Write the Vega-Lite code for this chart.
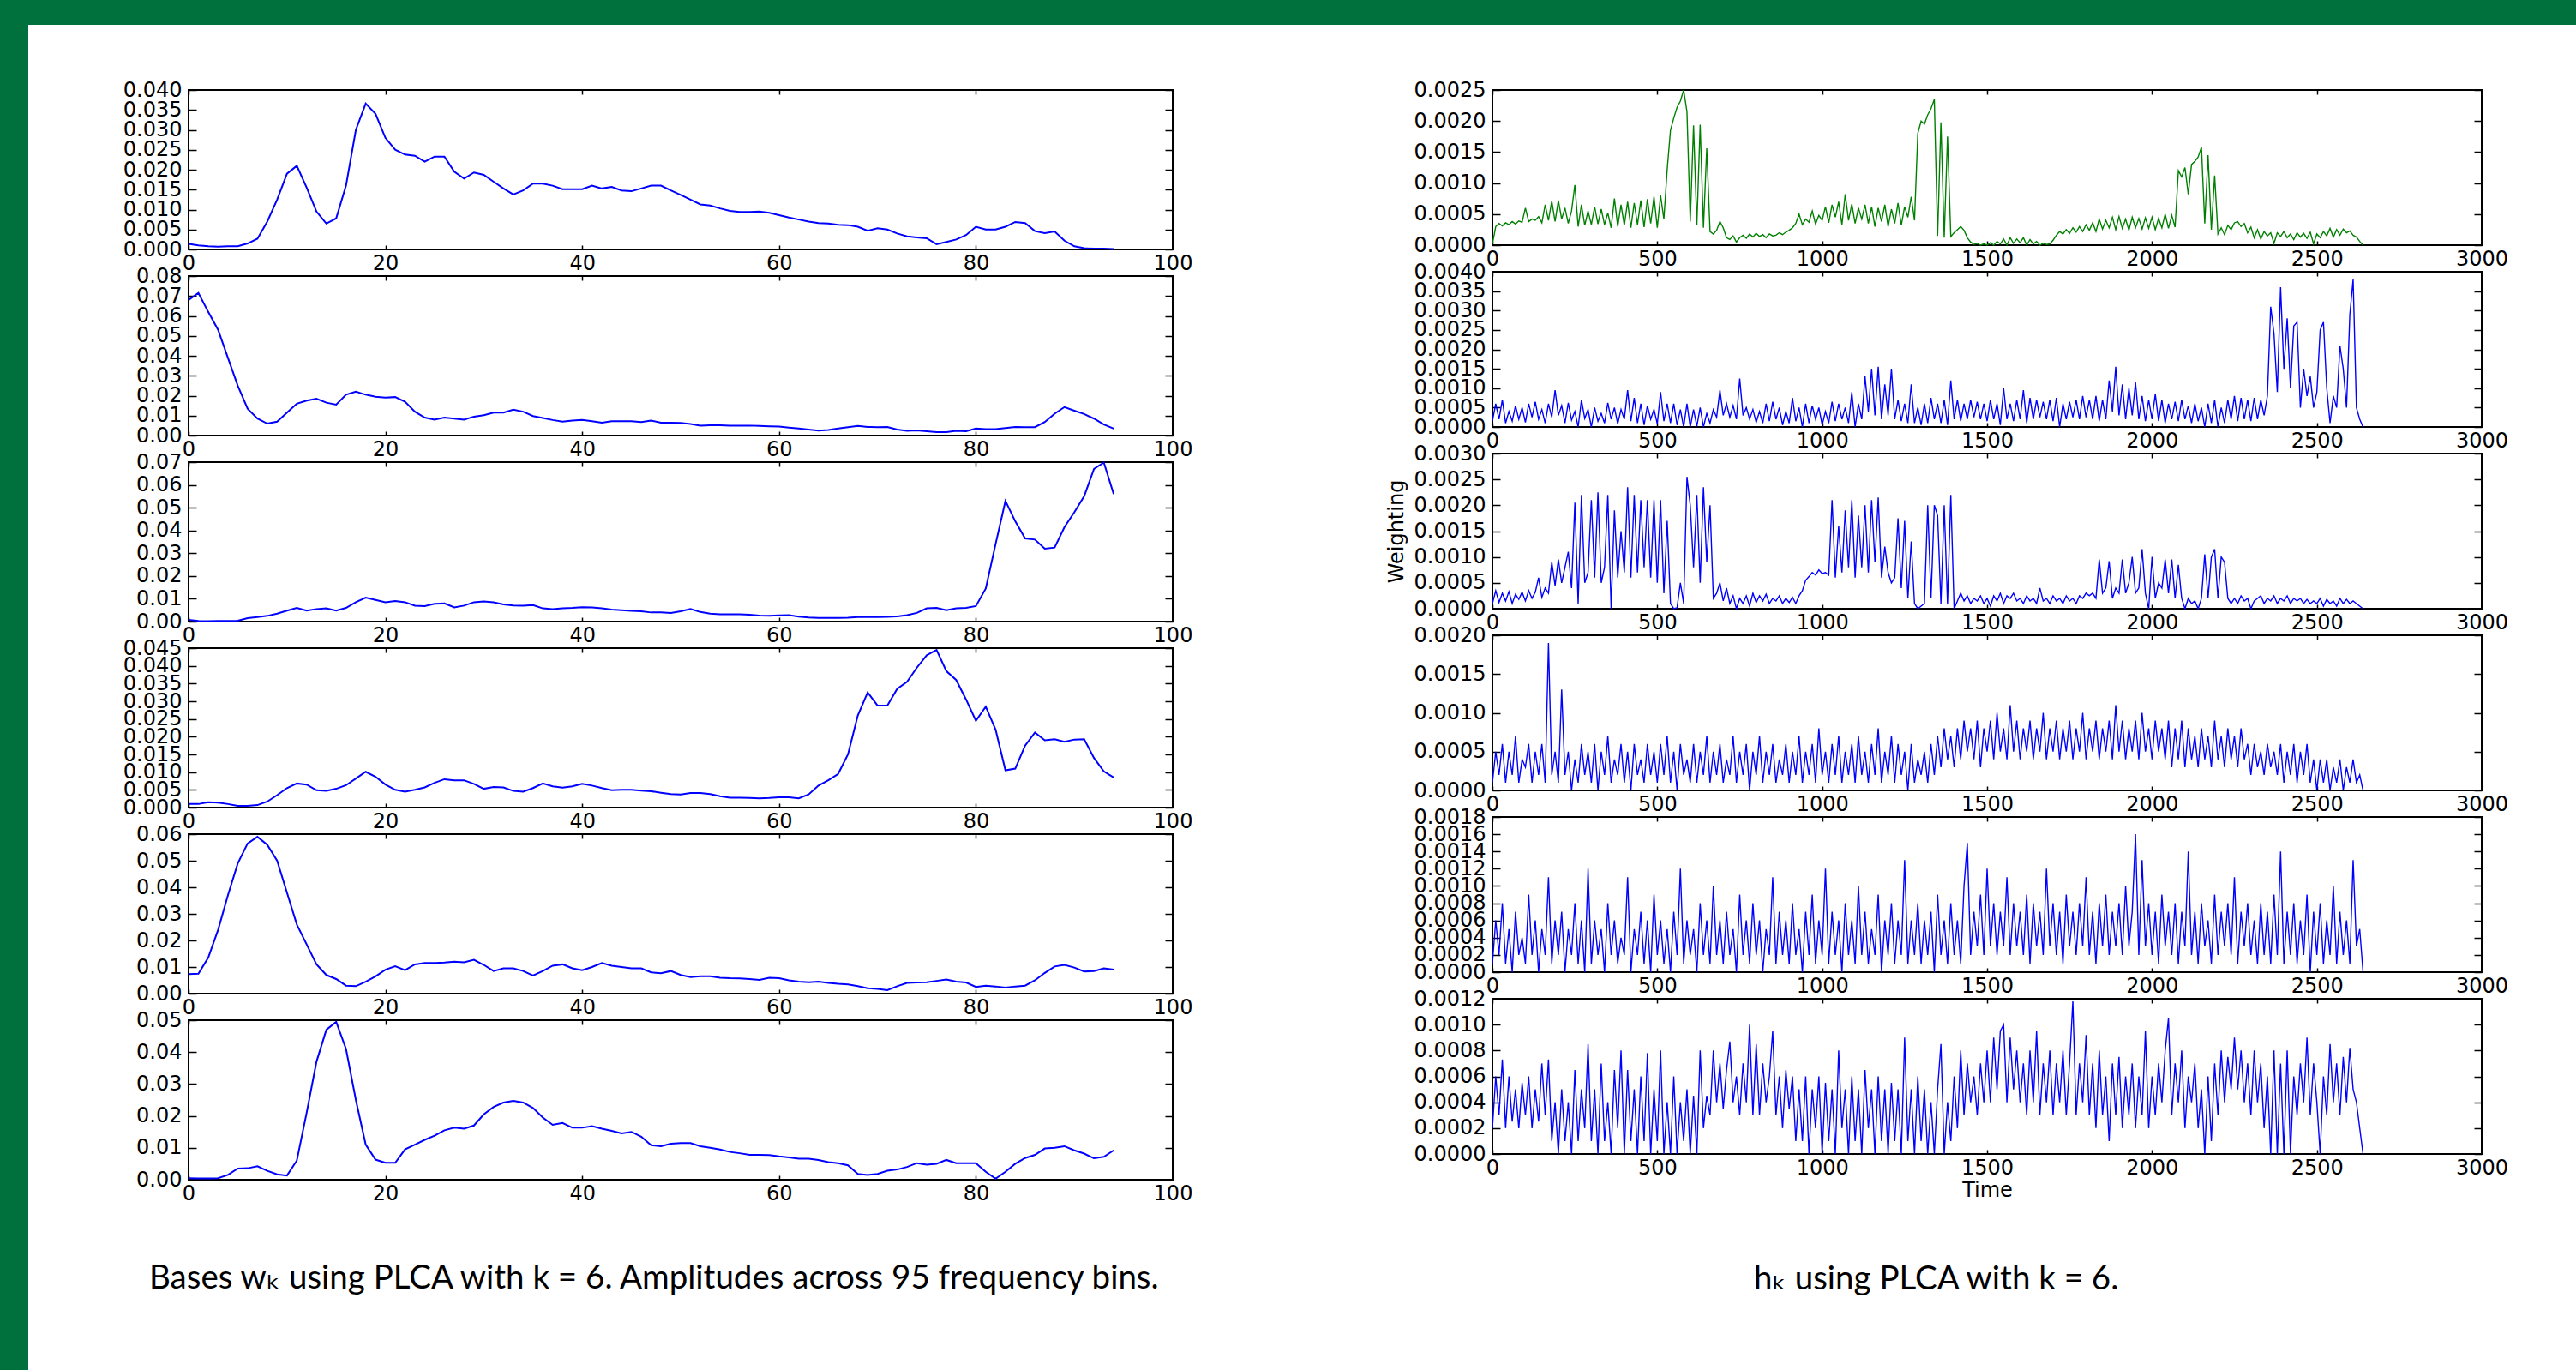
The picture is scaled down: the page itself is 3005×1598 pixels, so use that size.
{
"$schema": "https://vega.github.io/schema/vega-lite/v6.json",
"background": "white",
"padding": 0,
"config": {
  "view": {"stroke": "black", "strokeWidth": 2},
  "axis": {"grid": false, "domain": false, "ticks": true, "tickColor": "black", "tickWidth": 1.5, "labelFont": "DejaVu Sans", "labelFontSize": 24, "labelColor": "black", "labelFlush": false, "labelOverlap": false, "titleFont": "DejaVu Sans", "titleFontSize": 24, "titleFontWeight": "normal", "titleColor": "black"},
  "axisX": {"tickSize": -5, "labelPadding": 9},
  "axisY": {"tickSize": -9, "labelPadding": 17}
},
"datasets": {
"w": [
{"x":0,"a":0.0014,"b":0.068,"c":0.0008,"d":0.001,"e":0.0073,"f":0.0005},
{"x":1,"a":0.001,"b":0.0715,"c":0.0003,"d":0.001,"e":0.0075,"f":0.0004},
{"x":2,"a":0.0008,"b":0.062,"c":0.0002,"d":0.0015,"e":0.0135,"f":0.0004},
{"x":3,"a":0.0007,"b":0.053,"c":0.0003,"d":0.0014,"e":0.024,"f":0.0005},
{"x":4,"a":0.0008,"b":0.039,"c":0.0003,"d":0.001,"e":0.037,"f":0.0015},
{"x":5,"a":0.0008,"b":0.025,"c":0.0004,"d":0.0005,"e":0.049,"f":0.0035},
{"x":6,"a":0.0015,"b":0.0135,"c":0.0015,"d":0.0005,"e":0.0565,"f":0.0036},
{"x":7,"a":0.0027,"b":0.0085,"c":0.002,"d":0.0007,"e":0.059,"f":0.0042},
{"x":8,"a":0.007,"b":0.006,"c":0.0025,"d":0.0017,"e":0.056,"f":0.0028},
{"x":9,"a":0.0125,"b":0.007,"c":0.0035,"d":0.0035,"e":0.05,"f":0.0017},
{"x":10,"a":0.019,"b":0.0115,"c":0.0048,"d":0.0055,"e":0.038,"f":0.0013},
{"x":11,"a":0.021,"b":0.016,"c":0.006,"d":0.0068,"e":0.026,"f":0.006},
{"x":12,"a":0.0155,"b":0.0175,"c":0.0048,"d":0.0065,"e":0.0185,"f":0.021},
{"x":13,"a":0.0095,"b":0.0185,"c":0.0055,"d":0.0049,"e":0.011,"f":0.037},
{"x":14,"a":0.0065,"b":0.0165,"c":0.0058,"d":0.0047,"e":0.007,"f":0.047},
{"x":15,"a":0.0078,"b":0.0155,"c":0.0048,"d":0.0053,"e":0.0055,"f":0.0495},
{"x":16,"a":0.016,"b":0.0205,"c":0.006,"d":0.0063,"e":0.003,"f":0.041},
{"x":17,"a":0.03,"b":0.022,"c":0.0085,"d":0.0082,"e":0.0028,"f":0.025},
{"x":18,"a":0.0366,"b":0.0205,"c":0.0105,"d":0.0101,"e":0.0045,"f":0.011},
{"x":19,"a":0.034,"b":0.0195,"c":0.0095,"d":0.0087,"e":0.0065,"f":0.0063},
{"x":20,"a":0.028,"b":0.019,"c":0.0085,"d":0.0065,"e":0.009,"f":0.0053},
{"x":21,"a":0.025,"b":0.0193,"c":0.009,"d":0.005,"e":0.0103,"f":0.0053},
{"x":22,"a":0.0238,"b":0.017,"c":0.0085,"d":0.0045,"e":0.0088,"f":0.0095},
{"x":23,"a":0.0235,"b":0.012,"c":0.007,"d":0.005,"e":0.011,"f":0.011},
{"x":24,"a":0.022,"b":0.009,"c":0.0068,"d":0.0057,"e":0.0115,"f":0.0125},
{"x":25,"a":0.0233,"b":0.008,"c":0.0078,"d":0.007,"e":0.0115,"f":0.0138},
{"x":26,"a":0.0233,"b":0.009,"c":0.008,"d":0.008,"e":0.0117,"f":0.0155},
{"x":27,"a":0.0195,"b":0.0085,"c":0.0062,"d":0.0077,"e":0.012,"f":0.0163},
{"x":28,"a":0.0178,"b":0.008,"c":0.007,"d":0.0077,"e":0.0118,"f":0.016},
{"x":29,"a":0.0193,"b":0.0095,"c":0.0085,"d":0.0067,"e":0.0127,"f":0.017},
{"x":30,"a":0.0187,"b":0.0102,"c":0.0088,"d":0.0053,"e":0.0108,"f":0.0205},
{"x":31,"a":0.017,"b":0.0115,"c":0.0085,"d":0.0058,"e":0.0085,"f":0.0228},
{"x":32,"a":0.0153,"b":0.0115,"c":0.0075,"d":0.0057,"e":0.0095,"f":0.0242},
{"x":33,"a":0.0138,"b":0.013,"c":0.0071,"d":0.0047,"e":0.0095,"f":0.0247},
{"x":34,"a":0.0148,"b":0.012,"c":0.007,"d":0.0045,"e":0.0085,"f":0.0242},
{"x":35,"a":0.0165,"b":0.0098,"c":0.0072,"d":0.0055,"e":0.0068,"f":0.0225},
{"x":36,"a":0.0165,"b":0.0088,"c":0.0058,"d":0.0068,"e":0.0085,"f":0.0195},
{"x":37,"a":0.016,"b":0.0078,"c":0.0055,"d":0.006,"e":0.0105,"f":0.0172},
{"x":38,"a":0.0151,"b":0.007,"c":0.0058,"d":0.0056,"e":0.011,"f":0.0178},
{"x":39,"a":0.0151,"b":0.0075,"c":0.006,"d":0.006,"e":0.0095,"f":0.0163},
{"x":40,"a":0.0151,"b":0.0078,"c":0.0063,"d":0.0067,"e":0.0088,"f":0.0163},
{"x":41,"a":0.016,"b":0.0072,"c":0.0062,"d":0.0062,"e":0.01,"f":0.0168},
{"x":42,"a":0.0153,"b":0.0065,"c":0.0058,"d":0.0055,"e":0.0115,"f":0.016},
{"x":43,"a":0.0157,"b":0.0072,"c":0.0053,"d":0.0049,"e":0.0105,"f":0.0153},
{"x":44,"a":0.0148,"b":0.0072,"c":0.005,"d":0.005,"e":0.01,"f":0.0145},
{"x":45,"a":0.0146,"b":0.0072,"c":0.0047,"d":0.005,"e":0.0095,"f":0.015},
{"x":46,"a":0.0153,"b":0.0068,"c":0.0045,"d":0.0048,"e":0.0095,"f":0.0135},
{"x":47,"a":0.016,"b":0.0075,"c":0.004,"d":0.0046,"e":0.008,"f":0.0108},
{"x":48,"a":0.016,"b":0.0065,"c":0.004,"d":0.0042,"e":0.0077,"f":0.0105},
{"x":49,"a":0.0148,"b":0.0065,"c":0.0038,"d":0.0038,"e":0.0085,"f":0.0113},
{"x":50,"a":0.0137,"b":0.0063,"c":0.0045,"d":0.0037,"e":0.007,"f":0.0115},
{"x":51,"a":0.0125,"b":0.0058,"c":0.0055,"d":0.0041,"e":0.0062,"f":0.0115},
{"x":52,"a":0.0113,"b":0.005,"c":0.0042,"d":0.0041,"e":0.0065,"f":0.0105},
{"x":53,"a":0.011,"b":0.0052,"c":0.0035,"d":0.0038,"e":0.0065,"f":0.01},
{"x":54,"a":0.0103,"b":0.0052,"c":0.0032,"d":0.0032,"e":0.006,"f":0.0095},
{"x":55,"a":0.0097,"b":0.005,"c":0.0032,"d":0.0028,"e":0.0058,"f":0.0087},
{"x":56,"a":0.0094,"b":0.005,"c":0.0032,"d":0.0028,"e":0.0057,"f":0.0083},
{"x":57,"a":0.0094,"b":0.005,"c":0.003,"d":0.0027,"e":0.0055,"f":0.0078},
{"x":58,"a":0.0095,"b":0.0048,"c":0.0026,"d":0.0026,"e":0.0052,"f":0.0078},
{"x":59,"a":0.0092,"b":0.0046,"c":0.0025,"d":0.0027,"e":0.006,"f":0.0077},
{"x":60,"a":0.0086,"b":0.0045,"c":0.0027,"d":0.0029,"e":0.0058,"f":0.0073},
{"x":61,"a":0.008,"b":0.004,"c":0.0028,"d":0.0029,"e":0.005,"f":0.007},
{"x":62,"a":0.0075,"b":0.0035,"c":0.0022,"d":0.0026,"e":0.0045,"f":0.0066},
{"x":63,"a":0.007,"b":0.003,"c":0.0018,"d":0.0037,"e":0.0043,"f":0.0066},
{"x":64,"a":0.0066,"b":0.0025,"c":0.0016,"d":0.0062,"e":0.0045,"f":0.0062},
{"x":65,"a":0.0065,"b":0.0028,"c":0.0016,"d":0.0077,"e":0.004,"f":0.0055},
{"x":66,"a":0.0062,"b":0.0035,"c":0.0016,"d":0.0095,"e":0.0037,"f":0.0052},
{"x":67,"a":0.0061,"b":0.0042,"c":0.0017,"d":0.015,"e":0.0035,"f":0.0045},
{"x":68,"a":0.0057,"b":0.0048,"c":0.002,"d":0.026,"e":0.0028,"f":0.0018},
{"x":69,"a":0.0047,"b":0.0043,"c":0.002,"d":0.0325,"e":0.002,"f":0.0015},
{"x":70,"a":0.0053,"b":0.0042,"c":0.002,"d":0.0288,"e":0.0018,"f":0.0018},
{"x":71,"a":0.005,"b":0.0043,"c":0.0021,"d":0.0288,"e":0.0013,"f":0.0028},
{"x":72,"a":0.004,"b":0.003,"c":0.0023,"d":0.0335,"e":0.0028,"f":0.0032},
{"x":73,"a":0.0033,"b":0.0024,"c":0.0028,"d":0.0355,"e":0.004,"f":0.004},
{"x":74,"a":0.003,"b":0.0026,"c":0.0038,"d":0.0395,"e":0.0042,"f":0.0052},
{"x":75,"a":0.0028,"b":0.0022,"c":0.0058,"d":0.043,"e":0.0043,"f":0.0047},
{"x":76,"a":0.0013,"b":0.0017,"c":0.006,"d":0.0445,"e":0.0048,"f":0.005},
{"x":77,"a":0.0019,"b":0.0017,"c":0.005,"d":0.0385,"e":0.0053,"f":0.0062},
{"x":78,"a":0.0025,"b":0.0024,"c":0.0058,"d":0.036,"e":0.0045,"f":0.0052},
{"x":79,"a":0.0036,"b":0.0022,"c":0.006,"d":0.0305,"e":0.0042,"f":0.0052},
{"x":80,"a":0.0057,"b":0.0035,"c":0.0068,"d":0.0245,"e":0.0025,"f":0.0052},
{"x":81,"a":0.005,"b":0.0032,"c":0.0145,"d":0.0285,"e":0.003,"f":0.0025},
{"x":82,"a":0.005,"b":0.0032,"c":0.034,"d":0.022,"e":0.0027,"f":0.0003},
{"x":83,"a":0.0057,"b":0.0038,"c":0.053,"d":0.0105,"e":0.0023,"f":0.0025},
{"x":84,"a":0.0069,"b":0.0043,"c":0.044,"d":0.011,"e":0.0027,"f":0.005},
{"x":85,"a":0.0066,"b":0.0042,"c":0.0365,"d":0.0175,"e":0.003,"f":0.0068},
{"x":86,"a":0.0046,"b":0.0042,"c":0.036,"d":0.0212,"e":0.005,"f":0.0078},
{"x":87,"a":0.0041,"b":0.0068,"c":0.032,"d":0.019,"e":0.0078,"f":0.0098},
{"x":88,"a":0.0045,"b":0.011,"c":0.0325,"d":0.0193,"e":0.0102,"f":0.01},
{"x":89,"a":0.0022,"b":0.0143,"c":0.0415,"d":0.0186,"e":0.0108,"f":0.0105},
{"x":90,"a":0.0008,"b":0.0125,"c":0.048,"d":0.0192,"e":0.0098,"f":0.0092},
{"x":91,"a":0.0003,"b":0.0108,"c":0.055,"d":0.0193,"e":0.0083,"f":0.0082},
{"x":92,"a":0.0002,"b":0.0085,"c":0.067,"d":0.014,"e":0.0085,"f":0.0067},
{"x":93,"a":0.0002,"b":0.0055,"c":0.0698,"d":0.0102,"e":0.0095,"f":0.0072},
{"x":94,"a":0.0001,"b":0.0035,"c":0.056,"d":0.0085,"e":0.009,"f":0.0092}
],
"h": [
{"t":0,"a":0.00002,"b":0.00015,"c":0.0001,"d":0.0001,"e":0.0001,"f":0.0002},
{"t":10,"a":0.0003,"b":0.0006,"c":0.00035,"d":0.0005,"e":0.0006,"f":0.0006},
{"t":20,"a":0.00035,"b":0.0002,"c":0.00012,"d":0.0002,"e":0.0002,"f":0.0003},
{"t":30,"a":0.00031,"b":0.0007,"c":0.0003,"d":0.0006,"e":0.0008,"f":0.00073},
{"t":40,"a":0.00036,"b":0.0001,"c":0.00015,"d":0.0001,"e":0.0001,"f":0.0002},
{"t":50,"a":0.00033,"b":0.0004,"c":0.00033,"d":0.0005,"e":0.0005,"f":0.0006},
{"t":60,"a":0.00038,"b":0.00015,"c":0.0001,"d":0.0002,"e":0,"f":0.00025},
{"t":70,"a":0.00034,"b":0.00055,"c":0.00028,"d":0.0007,"e":0.0007,"f":0.0005},
{"t":80,"a":0.00039,"b":0.0002,"c":0.00018,"d":0.0001,"e":0.0002,"f":0.0002},
{"t":90,"a":0.00037,"b":0.0005,"c":0.00032,"d":0.0004,"e":0.0004,"f":0.00055},
{"t":100,"a":0.0006,"b":0.00012,"c":0.00015,"d":0.0003,"e":0.0001,"f":0.0003},
{"t":110,"a":0.00038,"b":0.0006,"c":0.00035,"d":0.0006,"e":0.0009,"f":0.0006},
{"t":120,"a":0.00042,"b":0.00025,"c":0.0002,"d":0.0001,"e":0.0002,"f":0.0002},
{"t":130,"a":0.0004,"b":0.00065,"c":0.00032,"d":0.0005,"e":0.0006,"f":0.0005},
{"t":140,"a":0.00046,"b":0.0002,"c":0.0006,"d":0.0002,"e":0,"f":0.00025},
{"t":150,"a":0.00036,"b":0.00045,"c":0.00022,"d":0.0006,"e":0.0005,"f":0.0007},
{"t":160,"a":0.00065,"b":0.0001,"c":0.0004,"d":0.0001,"e":0.0002,"f":0.0003},
{"t":170,"a":0.0004,"b":0.0006,"c":0.0003,"d":0.0019,"e":0.0011,"f":0.00073},
{"t":180,"a":0.00071,"b":0.00025,"c":0.0009,"d":0.0002,"e":0.0001,"f":0.0001},
{"t":190,"a":0.00038,"b":0.00095,"c":0.00045,"d":0.0005,"e":0.0006,"f":0.0004},
{"t":200,"a":0.00072,"b":0.0003,"c":0.00095,"d":0.0001,"e":0.0002,"f":0},
{"t":210,"a":0.00042,"b":0.00055,"c":0.0005,"d":0.0013,"e":0.0007,"f":0.0005},
{"t":220,"a":0.0006,"b":0.0001,"c":0.0008,"d":0.0002,"e":0,"f":0.0001},
{"t":230,"a":0.00035,"b":0.00062,"c":0.0011,"d":0.0005,"e":0.0005,"f":0.0004},
{"t":240,"a":0.00055,"b":0.00018,"c":0.0004,"d":0,"e":0.0002,"f":0},
{"t":250,"a":0.00097,"b":0.0004,"c":0.00205,"d":0.0004,"e":0.0008,"f":0.00065},
{"t":260,"a":0.0003,"b":0,"c":0.0001,"d":0.0001,"e":0.0001,"f":0.0001},
{"t":270,"a":0.00065,"b":0.0007,"c":0.0022,"d":0.0006,"e":0.0006,"f":0.0005},
{"t":280,"a":0.00032,"b":0.00022,"c":0.0005,"d":0.0002,"e":0,"f":0.0002},
{"t":290,"a":0.00055,"b":0.00045,"c":0.0007,"d":0.0005,"e":0.0012,"f":0.00085},
{"t":300,"a":0.00033,"b":0,"c":0.0021,"d":0.0001,"e":0.0001,"f":0.0001},
{"t":310,"a":0.00062,"b":0.0005,"c":0.0006,"d":0.0006,"e":0.0006,"f":0.0005},
{"t":320,"a":0.00034,"b":0.00015,"c":0.00225,"d":0,"e":0.0002,"f":0},
{"t":330,"a":0.00058,"b":0.00035,"c":0.0005,"d":0.0005,"e":0.0005,"f":0.0007},
{"t":340,"a":0.00033,"b":0.0001,"c":0.0008,"d":0.0002,"e":0,"f":0.0001},
{"t":350,"a":0.00052,"b":0.00062,"c":0.0022,"d":0.0007,"e":0.0008,"f":0.0004},
{"t":360,"a":0.00028,"b":0.0002,"c":0,"d":0.0001,"e":0.0002,"f":0},
{"t":370,"a":0.00075,"b":0.0005,"c":0.0019,"d":0.0004,"e":0.0006,"f":0.00065},
{"t":380,"a":0.0003,"b":0.00008,"c":0.0006,"d":0.0002,"e":0.0001,"f":0.0002},
{"t":390,"a":0.00065,"b":0.00045,"c":0.0015,"d":0.0006,"e":0.0004,"f":0.0008},
{"t":400,"a":0.00032,"b":0.0002,"c":0.0007,"d":0.0001,"e":0.0002,"f":0},
{"t":410,"a":0.0007,"b":0.00095,"c":0.00235,"d":0.0005,"e":0.0011,"f":0.00065},
{"t":420,"a":0.00028,"b":0.00015,"c":0.0006,"d":0,"e":0,"f":0.0001},
{"t":430,"a":0.00068,"b":0.00075,"c":0.0022,"d":0.0006,"e":0.0005,"f":0.0005},
{"t":440,"a":0.00033,"b":0.0001,"c":0.0007,"d":0.0002,"e":0.0002,"f":0},
{"t":450,"a":0.00072,"b":0.0006,"c":0.0021,"d":0.0004,"e":0.0007,"f":0.0006},
{"t":460,"a":0.00029,"b":0.00005,"c":0.0008,"d":0.0001,"e":0.0001,"f":0.0001},
{"t":470,"a":0.00074,"b":0.00055,"c":0.0021,"d":0.0006,"e":0.0006,"f":0.00078},
{"t":480,"a":0.00035,"b":0.0002,"c":0.0006,"d":0.0002,"e":0,"f":0},
{"t":490,"a":0.00078,"b":0.00045,"c":0.0021,"d":0.0005,"e":0.0009,"f":0.0005},
{"t":500,"a":0.00028,"b":0.00008,"c":0.0005,"d":0.0001,"e":0.0002,"f":0.0001},
{"t":510,"a":0.0008,"b":0.0009,"c":0.0021,"d":0.0006,"e":0.0006,"f":0.0008},
{"t":520,"a":0.00042,"b":0.00015,"c":0.0003,"d":0.0002,"e":0.0001,"f":0},
{"t":530,"a":0.00122,"b":0.0006,"c":0.0017,"d":0.0007,"e":0.0005,"f":0.0004},
{"t":540,"a":0.00185,"b":0.0001,"c":0.0001,"d":0.0001,"e":0,"f":0},
{"t":550,"a":0.00205,"b":0.0006,"c":0,"d":0.0005,"e":0.0007,"f":0.0006},
{"t":560,"a":0.00222,"b":0.00005,"c":0.00002,"d":0,"e":0.0002,"f":0},
{"t":570,"a":0.00232,"b":0.00045,"c":0.0005,"d":0.0006,"e":0.0012,"f":0.0004},
{"t":580,"a":0.0025,"b":0,"c":0.0001,"d":0.0002,"e":0.0001,"f":0.0001},
{"t":590,"a":0.00215,"b":0.0006,"c":0.00255,"d":0.0004,"e":0.0006,"f":0.0005},
{"t":600,"a":0.00038,"b":0,"c":0.002,"d":0.0001,"e":0.0002,"f":0},
{"t":610,"a":0.00193,"b":0.00045,"c":0.0008,"d":0.0006,"e":0.0005,"f":0.00045},
{"t":620,"a":0.00032,"b":0.00002,"c":0.0022,"d":0.0001,"e":0,"f":0},
{"t":630,"a":0.00194,"b":0.0005,"c":0.0005,"d":0.0005,"e":0.0008,"f":0.0008},
{"t":640,"a":0.00028,"b":0,"c":0.00235,"d":0.0002,"e":0.0002,"f":0.0002},
{"t":650,"a":0.00156,"b":0.00035,"c":0.0009,"d":0.0007,"e":0.0006,"f":0.00045},
{"t":660,"a":0.00022,"b":0.0001,"c":0.002,"d":0.0001,"e":0.0001,"f":0.0003},
{"t":670,"a":0.00018,"b":0.00045,"c":0.0002,"d":0.0005,"e":0.001,"f":0.0008},
{"t":680,"a":0.00024,"b":0.00025,"c":0.0003,"d":0.0002,"e":0.0002,"f":0.0004},
{"t":690,"a":0.00038,"b":0.00095,"c":0.0005,"d":0.0006,"e":0.0006,"f":0.0007},
{"t":700,"a":0.00028,"b":0.0003,"c":0.00015,"d":0.0001,"e":0.0001,"f":0.00035},
{"t":710,"a":0.00012,"b":0.0006,"c":0.0004,"d":0.0004,"e":0.0007,"f":0.00065},
{"t":720,"a":0.00009,"b":0.00025,"c":0.0001,"d":0.0002,"e":0.0002,"f":0.00087},
{"t":730,"a":0.00015,"b":0.00055,"c":0.00025,"d":0.0007,"e":0.0005,"f":0.0004},
{"t":740,"a":0.00005,"b":0.0002,"c":0,"d":0.0001,"e":0,"f":0.0006},
{"t":750,"a":0.00012,"b":0.00125,"c":0.0002,"d":0.0005,"e":0.0009,"f":0.0003},
{"t":760,"a":0.00016,"b":0.0003,"c":0.0001,"d":0.0002,"e":0.0002,"f":0.0007},
{"t":770,"a":0.00011,"b":0.0005,"c":0.00025,"d":0.0006,"e":0.0006,"f":0.0004},
{"t":780,"a":0.00018,"b":0.0002,"c":0.00005,"d":0,"e":0.0001,"f":0.001},
{"t":790,"a":0.00013,"b":0.00045,"c":0.0003,"d":0.0005,"e":0.0008,"f":0.0003},
{"t":800,"a":0.00019,"b":0.00012,"c":0.00012,"d":0.0002,"e":0.0002,"f":0.00085},
{"t":810,"a":0.00014,"b":0.0004,"c":0.00025,"d":0.0007,"e":0.0006,"f":0.0003},
{"t":820,"a":0.00017,"b":0.0001,"c":0.00015,"d":0.0001,"e":0,"f":0.0007},
{"t":830,"a":0.00012,"b":0.0006,"c":0.00028,"d":0.0005,"e":0.0005,"f":0.0004},
{"t":840,"a":0.00018,"b":0.00015,"c":0.0001,"d":0.0002,"e":0.0002,"f":0.0006},
{"t":850,"a":0.00015,"b":0.00065,"c":0.0002,"d":0.0006,"e":0.0011,"f":0.00095},
{"t":860,"a":0.00016,"b":0.0002,"c":0.00015,"d":0.0001,"e":0.0001,"f":0.0003},
{"t":870,"a":0.0002,"b":0.0005,"c":0.00025,"d":0.0004,"e":0.0007,"f":0.0006},
{"t":880,"a":0.00017,"b":0.00005,"c":0.0001,"d":0.0002,"e":0.0002,"f":0.0002},
{"t":890,"a":0.00021,"b":0.0004,"c":0.0002,"d":0.0006,"e":0.0006,"f":0.00065},
{"t":900,"a":0.00024,"b":0.0001,"c":0.00012,"d":0.0001,"e":0.0001,"f":0.00035},
{"t":910,"a":0.00028,"b":0.00075,"c":0.00022,"d":0.0005,"e":0.0008,"f":0.0006},
{"t":920,"a":0.00035,"b":0.00015,"c":0.0001,"d":0.0002,"e":0.0002,"f":0.0001},
{"t":930,"a":0.0005,"b":0.0005,"c":0.00025,"d":0.0007,"e":0.0005,"f":0.0005},
{"t":940,"a":0.00033,"b":0,"c":0.00035,"d":0.0001,"e":0,"f":0.0001},
{"t":950,"a":0.00042,"b":0.0006,"c":0.00055,"d":0.0005,"e":0.0007,"f":0.0006},
{"t":960,"a":0.00037,"b":0.0001,"c":0.00062,"d":0.0002,"e":0.0002,"f":0},
{"t":970,"a":0.00055,"b":0.00055,"c":0.0007,"d":0.0006,"e":0.0009,"f":0.0005},
{"t":980,"a":0.00034,"b":0.0002,"c":0.00065,"d":0.0001,"e":0.0001,"f":0.0002},
{"t":990,"a":0.00048,"b":0.0005,"c":0.00075,"d":0.0008,"e":0.0006,"f":0.0006},
{"t":1000,"a":0.0004,"b":0.00005,"c":0.00068,"d":0.0002,"e":0.0002,"f":0},
{"t":1010,"a":0.00062,"b":0.0004,"c":0.0007,"d":0.0005,"e":0.0012,"f":0.00055},
{"t":1020,"a":0.00036,"b":0.0001,"c":0.00065,"d":0.0001,"e":0.0001,"f":0.0001},
{"t":1030,"a":0.00065,"b":0.00065,"c":0.0021,"d":0.0006,"e":0.0007,"f":0.0005},
{"t":1040,"a":0.00045,"b":0.00015,"c":0.0006,"d":0.0002,"e":0.0002,"f":0},
{"t":1050,"a":0.0007,"b":0.0006,"c":0.0016,"d":0.0007,"e":0.0006,"f":0.0008},
{"t":1060,"a":0.00033,"b":0.0002,"c":0.0007,"d":0.0001,"e":0,"f":0.0002},
{"t":1070,"a":0.00082,"b":0.0005,"c":0.0019,"d":0.0005,"e":0.0008,"f":0.0005},
{"t":1080,"a":0.0004,"b":0.0001,"c":0.0008,"d":0.0002,"e":0.0002,"f":0},
{"t":1090,"a":0.00066,"b":0.0009,"c":0.0021,"d":0.0006,"e":0.0006,"f":0.0006},
{"t":1100,"a":0.00035,"b":0,"c":0.0006,"d":0.0001,"e":0.0001,"f":0.0001},
{"t":1110,"a":0.0006,"b":0.0006,"c":0.0018,"d":0.0007,"e":0.001,"f":0.0005},
{"t":1120,"a":0.00042,"b":0.0002,"c":0.0008,"d":0.0002,"e":0.0002,"f":0},
{"t":1130,"a":0.00065,"b":0.0013,"c":0.002,"d":0.0005,"e":0.0007,"f":0.00065},
{"t":1140,"a":0.00035,"b":0.0004,"c":0.0007,"d":0.0001,"e":0.0001,"f":0.0002},
{"t":1150,"a":0.00062,"b":0.0015,"c":0.0021,"d":0.0006,"e":0.0005,"f":0.0005},
{"t":1160,"a":0.0003,"b":0.0003,"c":0.0009,"d":0.0002,"e":0.0002,"f":0},
{"t":1170,"a":0.0006,"b":0.00155,"c":0.00215,"d":0.0008,"e":0.0009,"f":0.0006},
{"t":1180,"a":0.00038,"b":0.0002,"c":0.0006,"d":0.0001,"e":0,"f":0.0001},
{"t":1190,"a":0.00065,"b":0.0011,"c":0.0012,"d":0.0005,"e":0.0006,"f":0.0005},
{"t":1200,"a":0.0003,"b":0.0003,"c":0.0007,"d":0.0002,"e":0.0002,"f":0},
{"t":1210,"a":0.00058,"b":0.0015,"c":0.0005,"d":0.0007,"e":0.0008,"f":0.00055},
{"t":1220,"a":0.00035,"b":0.0002,"c":0.0006,"d":0.0001,"e":0.0001,"f":0.0001},
{"t":1230,"a":0.00068,"b":0.0007,"c":0.00175,"d":0.0006,"e":0.0006,"f":0.0005},
{"t":1240,"a":0.00032,"b":0.00015,"c":0.0004,"d":0.0002,"e":0.0002,"f":0},
{"t":1250,"a":0.00062,"b":0.0006,"c":0.0017,"d":0.0005,"e":0.0013,"f":0.0009},
{"t":1260,"a":0.00045,"b":0.0001,"c":0.0002,"d":0,"e":0.0001,"f":0.0001},
{"t":1270,"a":0.00078,"b":0.0011,"c":0.0013,"d":0.0006,"e":0.0006,"f":0.0005},
{"t":1280,"a":0.0004,"b":0.0001,"c":0.0001,"d":0.0001,"e":0.0002,"f":0},
{"t":1290,"a":0.0018,"b":0.0005,"c":0,"d":0.0004,"e":0.0008,"f":0.0006},
{"t":1300,"a":0.002,"b":0.00005,"c":0.00005,"d":0.0002,"e":0.0001,"f":0.0001},
{"t":1310,"a":0.00195,"b":0.0006,"c":0.0001,"d":0.0005,"e":0.0006,"f":0.0005},
{"t":1320,"a":0.0021,"b":0.0001,"c":0.002,"d":0.0001,"e":0.0002,"f":0},
{"t":1330,"a":0.0022,"b":0.00075,"c":0.0002,"d":0.0006,"e":0.0007,"f":0.0004},
{"t":1340,"a":0.00235,"b":0.0002,"c":0.002,"d":0.0002,"e":0,"f":0},
{"t":1350,"a":0.00015,"b":0.0006,"c":0.0018,"d":0.0007,"e":0.0009,"f":0.0005},
{"t":1360,"a":0.00198,"b":0.0001,"c":0.0001,"d":0.0003,"e":0.0002,"f":0.00085},
{"t":1370,"a":0.00012,"b":0.0007,"c":0.002,"d":0.0008,"e":0.0006,"f":0},
{"t":1380,"a":0.00175,"b":0.00005,"c":0.0001,"d":0.0004,"e":0.0001,"f":0.0004},
{"t":1390,"a":0.00014,"b":0.0012,"c":0.0022,"d":0.0007,"e":0.0008,"f":0.0001},
{"t":1400,"a":0.0002,"b":0.0002,"c":0,"d":0.0003,"e":0.0002,"f":0.0006},
{"t":1410,"a":0.00025,"b":0.0007,"c":0.00015,"d":0.0008,"e":0.0006,"f":0.0002},
{"t":1420,"a":0.0003,"b":0.00015,"c":0.0003,"d":0.0004,"e":0.0001,"f":0.0008},
{"t":1430,"a":0.00024,"b":0.0006,"c":0.00015,"d":0.0009,"e":0.001,"f":0.0003},
{"t":1440,"a":0.00012,"b":0.0002,"c":0.00025,"d":0.0005,"e":0.0015,"f":0.0007},
{"t":1450,"a":0.00005,"b":0.0007,"c":0.0001,"d":0.0008,"e":0.0002,"f":0.0004},
{"t":1460,"a":0.00001,"b":0.00025,"c":0.0002,"d":0.0004,"e":0.0007,"f":0.0006},
{"t":1470,"a":0.00003,"b":0.00065,"c":0.00015,"d":0.0009,"e":0.0003,"f":0.0003},
{"t":1480,"a":0,"b":0.0002,"c":0.00025,"d":0.0003,"e":0.0009,"f":0.0007},
{"t":1490,"a":0.00002,"b":0.0006,"c":0.0001,"d":0.0008,"e":0.0002,"f":0.0004},
{"t":1500,"a":0,"b":0.00015,"c":0.0002,"d":0.0005,"e":0.0012,"f":0.0008},
{"t":1510,"a":0.00004,"b":0.0007,"c":0.00005,"d":0.0009,"e":0.0003,"f":0.0004},
{"t":1520,"a":0,"b":0.0002,"c":0.00025,"d":0.0004,"e":0.0008,"f":0.0009},
{"t":1530,"a":0.00006,"b":0.0006,"c":0.00015,"d":0.001,"e":0.0002,"f":0.0005},
{"t":1540,"a":0.00002,"b":0.00005,"c":0.0003,"d":0.0005,"e":0.0007,"f":0.00095},
{"t":1550,"a":0.0001,"b":0.001,"c":0.0001,"d":0.0008,"e":0.0003,"f":0.001},
{"t":1560,"a":0,"b":0.0002,"c":0.00025,"d":0.0004,"e":0.0011,"f":0.0004},
{"t":1570,"a":0.00012,"b":0.0006,"c":0.0002,"d":0.0011,"e":0.0002,"f":0.0009},
{"t":1580,"a":0.00003,"b":0.00015,"c":0.0003,"d":0.0005,"e":0.0008,"f":0.0005},
{"t":1590,"a":0.0001,"b":0.0007,"c":0.00015,"d":0.0009,"e":0.0003,"f":0.0008},
{"t":1600,"a":0.00004,"b":0.0002,"c":0.0002,"d":0.0004,"e":0.0007,"f":0.0004},
{"t":1610,"a":0.00012,"b":0.00095,"c":0.0001,"d":0.0008,"e":0.0002,"f":0.0007},
{"t":1620,"a":0,"b":0.0001,"c":0.00025,"d":0.0005,"e":0.0009,"f":0.0003},
{"t":1630,"a":0.00009,"b":0.00075,"c":0.00015,"d":0.0009,"e":0.0001,"f":0.0008},
{"t":1640,"a":0.00002,"b":0.0002,"c":0.0002,"d":0.0004,"e":0.0008,"f":0.0004},
{"t":1650,"a":0.00006,"b":0.0007,"c":0.0001,"d":0.0008,"e":0.0003,"f":0.00095},
{"t":1660,"a":0,"b":0.00025,"c":0.0004,"d":0.0005,"e":0.0007,"f":0.0003},
{"t":1670,"a":0.00003,"b":0.00065,"c":0.00015,"d":0.001,"e":0.0002,"f":0.0007},
{"t":1680,"a":0.00001,"b":0.0002,"c":0.0002,"d":0.0004,"e":0.0012,"f":0.0004},
{"t":1690,"a":0.00002,"b":0.0007,"c":0.0001,"d":0.0008,"e":0.0003,"f":0.0008},
{"t":1700,"a":0.00008,"b":0.00015,"c":0.00025,"d":0.0005,"e":0.0008,"f":0.0003},
{"t":1710,"a":0.00016,"b":0.00075,"c":0.00015,"d":0.0009,"e":0.0002,"f":0.0007},
{"t":1720,"a":0.00022,"b":0,"c":0.0002,"d":0.0004,"e":0.0007,"f":0.0004},
{"t":1730,"a":0.00018,"b":0.0006,"c":0.0001,"d":0.0008,"e":0.0001,"f":0.0008},
{"t":1740,"a":0.00025,"b":0.0002,"c":0.00025,"d":0.0005,"e":0.0009,"f":0.0003},
{"t":1750,"a":0.00019,"b":0.00065,"c":0.00015,"d":0.0009,"e":0.0003,"f":0.0007},
{"t":1760,"a":0.00028,"b":0.00025,"c":0.0002,"d":0.0004,"e":0.0007,"f":0.00118},
{"t":1770,"a":0.00021,"b":0.0007,"c":0.0001,"d":0.0008,"e":0.0002,"f":0.0003},
{"t":1780,"a":0.0003,"b":0.0002,"c":0.00025,"d":0.0005,"e":0.0008,"f":0.0007},
{"t":1790,"a":0.00022,"b":0.0008,"c":0.0002,"d":0.001,"e":0.0003,"f":0.0004},
{"t":1800,"a":0.00033,"b":0.00025,"c":0.0003,"d":0.0004,"e":0.0011,"f":0.00092},
{"t":1810,"a":0.00024,"b":0.0007,"c":0.00025,"d":0.0008,"e":0.0002,"f":0.0003},
{"t":1820,"a":0.00036,"b":0.0002,"c":0.0003,"d":0.0005,"e":0.0007,"f":0.0007},
{"t":1830,"a":0.00022,"b":0.0008,"c":0.0002,"d":0.0009,"e":0.0001,"f":0.0002},
{"t":1840,"a":0.00042,"b":0.00015,"c":0.00095,"d":0.0004,"e":0.0008,"f":0.0008},
{"t":1850,"a":0.00026,"b":0.0007,"c":0.0003,"d":0.0008,"e":0.0003,"f":0.0003},
{"t":1860,"a":0.0004,"b":0.0002,"c":0.0004,"d":0.0005,"e":0.0009,"f":0.0006},
{"t":1870,"a":0.00028,"b":0.0012,"c":0.00092,"d":0.0009,"e":0.0002,"f":0.0001},
{"t":1880,"a":0.00045,"b":0.0004,"c":0.0002,"d":0.0004,"e":0.0007,"f":0.0007},
{"t":1890,"a":0.00025,"b":0.00155,"c":0.0004,"d":0.0011,"e":0.0003,"f":0.0003},
{"t":1900,"a":0.00046,"b":0.0003,"c":0.0003,"d":0.0005,"e":0.0008,"f":0.00075},
{"t":1910,"a":0.00027,"b":0.0011,"c":0.00095,"d":0.0009,"e":0.0002,"f":0.0002},
{"t":1920,"a":0.00042,"b":0.0002,"c":0.0003,"d":0.0004,"e":0.001,"f":0.0006},
{"t":1930,"a":0.00024,"b":0.001,"c":0.0005,"d":0.0008,"e":0.0003,"f":0.0003},
{"t":1940,"a":0.00045,"b":0.0003,"c":0.001,"d":0.0005,"e":0.0007,"f":0.0007},
{"t":1950,"a":0.00028,"b":0.00115,"c":0.0003,"d":0.0009,"e":0.0016,"f":0.0002},
{"t":1960,"a":0.00043,"b":0.0002,"c":0.0004,"d":0.0004,"e":0.0002,"f":0.0006},
{"t":1970,"a":0.00026,"b":0.0008,"c":0.00115,"d":0.001,"e":0.0013,"f":0.0003},
{"t":1980,"a":0.00044,"b":0.00015,"c":0.0003,"d":0.0005,"e":0.0003,"f":0.00095},
{"t":1990,"a":0.00027,"b":0.0007,"c":0,"d":0.0008,"e":0.0008,"f":0.0002},
{"t":2000,"a":0.00045,"b":0.0002,"c":0.001,"d":0.0004,"e":0.0002,"f":0.0006},
{"t":2010,"a":0.00025,"b":0.00085,"c":0.0002,"d":0.0009,"e":0.0007,"f":0.0003},
{"t":2020,"a":0.00043,"b":0.00015,"c":0.0005,"d":0.0005,"e":0.0001,"f":0.0007},
{"t":2030,"a":0.00028,"b":0.0007,"c":0.0004,"d":0.0008,"e":0.0009,"f":0.0004},
{"t":2040,"a":0.0005,"b":0.0001,"c":0.00095,"d":0.0004,"e":0.0003,"f":0.0008},
{"t":2050,"a":0.00027,"b":0.0006,"c":0.0003,"d":0.0009,"e":0.0007,"f":0.00105},
{"t":2060,"a":0.00048,"b":0.0002,"c":0.00095,"d":0.0003,"e":0.0002,"f":0.0003},
{"t":2070,"a":0.00029,"b":0.00065,"c":0.0002,"d":0.0008,"e":0.0008,"f":0.0007},
{"t":2080,"a":0.0012,"b":0.00015,"c":0.00085,"d":0.0004,"e":0.0001,"f":0.0004},
{"t":2090,"a":0.0011,"b":0.0007,"c":0.0002,"d":0.0009,"e":0.0007,"f":0.0008},
{"t":2100,"a":0.00125,"b":0.0002,"c":0,"d":0.0003,"e":0.0003,"f":0.0002},
{"t":2110,"a":0.00082,"b":0.00055,"c":0.0002,"d":0.0008,"e":0.0014,"f":0.0006},
{"t":2120,"a":0.0013,"b":0.0001,"c":0.0001,"d":0.0004,"e":0.0002,"f":0.0004},
{"t":2130,"a":0.00135,"b":0.0006,"c":0.00015,"d":0.0007,"e":0.0007,"f":0.0007},
{"t":2140,"a":0.00142,"b":0.00015,"c":0,"d":0.0003,"e":0.0001,"f":0.0002},
{"t":2150,"a":0.00158,"b":0.0005,"c":0.0002,"d":0.0008,"e":0.0008,"f":0.0005},
{"t":2160,"a":0.00035,"b":0,"c":0.00105,"d":0.0004,"e":0.0003,"f":0},
{"t":2170,"a":0.00145,"b":0.0006,"c":0.0002,"d":0.0007,"e":0.0006,"f":0.0006},
{"t":2180,"a":0.00025,"b":0.0001,"c":0.001,"d":0.0003,"e":0.0001,"f":0.0001},
{"t":2190,"a":0.00112,"b":0.0007,"c":0.00115,"d":0.0009,"e":0.0009,"f":0.0007},
{"t":2200,"a":0.00018,"b":0,"c":0.0002,"d":0.0004,"e":0.0002,"f":0.0003},
{"t":2210,"a":0.00028,"b":0.0005,"c":0.001,"d":0.0007,"e":0.0007,"f":0.0008},
{"t":2220,"a":0.00017,"b":0.0001,"c":0.0009,"d":0.0003,"e":0.0003,"f":0.0004},
{"t":2230,"a":0.00032,"b":0.0007,"c":0.0002,"d":0.0008,"e":0.0008,"f":0.00075},
{"t":2240,"a":0.00025,"b":0.0002,"c":0.0001,"d":0.0004,"e":0.0002,"f":0.0005},
{"t":2250,"a":0.00036,"b":0.0008,"c":0.0002,"d":0.0007,"e":0.0011,"f":0.0009},
{"t":2260,"a":0.00038,"b":0.00015,"c":0.0001,"d":0.0003,"e":0.0001,"f":0.0005},
{"t":2270,"a":0.0003,"b":0.00075,"c":0.00025,"d":0.0008,"e":0.0007,"f":0.0008},
{"t":2280,"a":0.00035,"b":0.0002,"c":0.00015,"d":0.0004,"e":0.0003,"f":0.0004},
{"t":2290,"a":0.0002,"b":0.0007,"c":0.0002,"d":0.0006,"e":0.0008,"f":0.0007},
{"t":2300,"a":0.00029,"b":0.00015,"c":0,"d":0.0002,"e":0.0002,"f":0.0003},
{"t":2310,"a":0.00012,"b":0.00075,"c":0.00015,"d":0.0006,"e":0.0006,"f":0.0008},
{"t":2320,"a":0.00025,"b":0.0002,"c":0.0002,"d":0.0003,"e":0.0001,"f":0.0004},
{"t":2330,"a":0.0001,"b":0.0007,"c":0.00025,"d":0.0005,"e":0.0008,"f":0.0007},
{"t":2340,"a":0.00022,"b":0.0003,"c":0.0001,"d":0.0002,"e":0.0002,"f":0.0002},
{"t":2350,"a":0.00015,"b":0.0008,"c":0.0002,"d":0.0006,"e":0.0007,"f":0.0006},
{"t":2360,"a":0.0002,"b":0.0031,"c":0.00015,"d":0.0003,"e":0.0001,"f":0},
{"t":2370,"a":0.00003,"b":0.0024,"c":0.00025,"d":0.0005,"e":0.0009,"f":0.0008},
{"t":2380,"a":0.0002,"b":0.0009,"c":0.0001,"d":0.0002,"e":0.0002,"f":0},
{"t":2390,"a":0.00014,"b":0.0036,"c":0.0002,"d":0.0006,"e":0.0014,"f":0.0007},
{"t":2400,"a":0.00022,"b":0.0015,"c":0.00015,"d":0.0001,"e":0.0001,"f":0},
{"t":2410,"a":0.00012,"b":0.0028,"c":0.00025,"d":0.0005,"e":0.0007,"f":0.0008},
{"t":2420,"a":0.00018,"b":0.001,"c":0.0001,"d":0.0002,"e":0.0002,"f":0},
{"t":2430,"a":0.00009,"b":0.0026,"c":0.0002,"d":0.0006,"e":0.0008,"f":0.0006},
{"t":2440,"a":0.0002,"b":0.0027,"c":0.00015,"d":0.0001,"e":0.0001,"f":0.0003},
{"t":2450,"a":0.00013,"b":0.0005,"c":0.0002,"d":0.0005,"e":0.0006,"f":0.0007},
{"t":2460,"a":0.00019,"b":0.0015,"c":0.0001,"d":0.0002,"e":0.0002,"f":0.0004},
{"t":2470,"a":0.00011,"b":0.0008,"c":0.00018,"d":0.0006,"e":0.0009,"f":0.0009},
{"t":2480,"a":0.00021,"b":0.0013,"c":0.0001,"d":0.0001,"e":0,"f":0.0003},
{"t":2490,"a":0.00002,"b":0.0005,"c":0.00015,"d":0.0004,"e":0.0007,"f":0.0007},
{"t":2500,"a":0.00018,"b":0.0009,"c":0.0001,"d":0,"e":0.0002,"f":0.0004},
{"t":2510,"a":0.00012,"b":0.0025,"c":0.0002,"d":0.0004,"e":0.0008,"f":0},
{"t":2520,"a":0.00022,"b":0.0027,"c":0.00005,"d":0.0001,"e":0.0001,"f":0.0006},
{"t":2530,"a":0.00015,"b":0.001,"c":0.00018,"d":0.0004,"e":0.0006,"f":0.0003},
{"t":2540,"a":0.00027,"b":0.0001,"c":0.0001,"d":0,"e":0.0002,"f":0.00085},
{"t":2550,"a":0.00013,"b":0.0008,"c":0.00015,"d":0.0003,"e":0.001,"f":0.0004},
{"t":2560,"a":0.00025,"b":0.0005,"c":0.00005,"d":0.0001,"e":0.0001,"f":0.0007},
{"t":2570,"a":0.00016,"b":0.0021,"c":0.0002,"d":0.0004,"e":0.0007,"f":0.0003},
{"t":2580,"a":0.00026,"b":0.0015,"c":0.0001,"d":0,"e":0.0002,"f":0.00075},
{"t":2590,"a":0.0002,"b":0.0005,"c":0.00018,"d":0.0003,"e":0.0006,"f":0.0004},
{"t":2600,"a":0.00023,"b":0.0029,"c":0.0001,"d":0.0001,"e":0.0001,"f":0.00082},
{"t":2610,"a":0.00016,"b":0.0038,"c":0.00015,"d":0.0004,"e":0.0013,"f":0.0005},
{"t":2620,"a":0.00013,"b":0.0005,"c":0.0001,"d":0.0001,"e":0.0003,"f":0.0004},
{"t":2630,"a":0.00006,"b":0.0002,"c":0.00005,"d":0.0002,"e":0.0005,"f":0.0002},
{"t":2640,"a":0,"b":0,"c":0,"d":0,"e":0,"f":0}
]
},
"spacing": 0,
"bounds": "full",
"vconcat": [
  {"width": 3005, "height": 29, "data": {"values": []}, "mark": "rect", "encoding": {}, "view": {"fill": "#00703c", "stroke": null}},
  {"spacing": 109, "bounds": "full", "hconcat": [
    {"width": 33, "height": 1569, "data": {"values": []}, "mark": "rect", "encoding": {}, "view": {"fill": "#00703c", "stroke": null}},
    {"spacing": 224, "bounds": "full", "hconcat": [
      {"spacing": 31, "bounds": "flush", "vconcat": [
        {"width": 1148, "height": 45, "data": {"values": []}, "mark": "rect", "encoding": {}, "view": {"stroke": null}},
        {"width": 1148, "height": 186, "resolve": {"axis": {"x": "independent", "y": "independent"}}, "layer": [
          {"data": {"name": "w"}, "mark": {"type": "line", "color": "#0000ff", "strokeWidth": 2},
           "encoding": {"x": {"field": "x", "type": "quantitative", "scale": {"domain": [0, 100], "nice": false}, "axis": {"values": [0, 20, 40, 60, 80, 100], "format": "d", "title": null}},
                        "y": {"field": "a", "type": "quantitative", "scale": {"domain": [0, 0.04], "nice": false}, "axis": {"values": [0, 0.005, 0.01, 0.015, 0.02, 0.025, 0.03, 0.035, 0.04], "format": ".3f", "title": null}}}},
          {"data": {"values": []}, "mark": "point",
           "encoding": {"x": {"field": "x", "type": "quantitative", "scale": {"domain": [0, 100], "nice": false}, "axis": {"orient": "top", "values": [0, 20, 40, 60, 80, 100], "labels": false, "title": null}},
                        "y": {"field": "a", "type": "quantitative", "scale": {"domain": [0, 0.04], "nice": false}, "axis": {"orient": "right", "values": [0, 0.005, 0.01, 0.015, 0.02, 0.025, 0.03, 0.035, 0.04], "labels": false, "title": null}}}}
        ]},
        {"width": 1148, "height": 186, "resolve": {"axis": {"x": "independent", "y": "independent"}}, "layer": [
          {"data": {"name": "w"}, "mark": {"type": "line", "color": "#0000ff", "strokeWidth": 2},
           "encoding": {"x": {"field": "x", "type": "quantitative", "scale": {"domain": [0, 100], "nice": false}, "axis": {"values": [0, 20, 40, 60, 80, 100], "format": "d", "title": null}},
                        "y": {"field": "b", "type": "quantitative", "scale": {"domain": [0, 0.08], "nice": false}, "axis": {"values": [0, 0.01, 0.02, 0.03, 0.04, 0.05, 0.06, 0.07, 0.08], "format": ".2f", "title": null}}}},
          {"data": {"values": []}, "mark": "point",
           "encoding": {"x": {"field": "x", "type": "quantitative", "scale": {"domain": [0, 100], "nice": false}, "axis": {"orient": "top", "values": [0, 20, 40, 60, 80, 100], "labels": false, "title": null}},
                        "y": {"field": "b", "type": "quantitative", "scale": {"domain": [0, 0.08], "nice": false}, "axis": {"orient": "right", "values": [0, 0.01, 0.02, 0.03, 0.04, 0.05, 0.06, 0.07, 0.08], "labels": false, "title": null}}}}
        ]},
        {"width": 1148, "height": 186, "resolve": {"axis": {"x": "independent", "y": "independent"}}, "layer": [
          {"data": {"name": "w"}, "mark": {"type": "line", "color": "#0000ff", "strokeWidth": 2},
           "encoding": {"x": {"field": "x", "type": "quantitative", "scale": {"domain": [0, 100], "nice": false}, "axis": {"values": [0, 20, 40, 60, 80, 100], "format": "d", "title": null}},
                        "y": {"field": "c", "type": "quantitative", "scale": {"domain": [0, 0.07], "nice": false}, "axis": {"values": [0, 0.01, 0.02, 0.03, 0.04, 0.05, 0.06, 0.07], "format": ".2f", "title": null}}}},
          {"data": {"values": []}, "mark": "point",
           "encoding": {"x": {"field": "x", "type": "quantitative", "scale": {"domain": [0, 100], "nice": false}, "axis": {"orient": "top", "values": [0, 20, 40, 60, 80, 100], "labels": false, "title": null}},
                        "y": {"field": "c", "type": "quantitative", "scale": {"domain": [0, 0.07], "nice": false}, "axis": {"orient": "right", "values": [0, 0.01, 0.02, 0.03, 0.04, 0.05, 0.06, 0.07], "labels": false, "title": null}}}}
        ]},
        {"width": 1148, "height": 186, "resolve": {"axis": {"x": "independent", "y": "independent"}}, "layer": [
          {"data": {"name": "w"}, "mark": {"type": "line", "color": "#0000ff", "strokeWidth": 2},
           "encoding": {"x": {"field": "x", "type": "quantitative", "scale": {"domain": [0, 100], "nice": false}, "axis": {"values": [0, 20, 40, 60, 80, 100], "format": "d", "title": null}},
                        "y": {"field": "d", "type": "quantitative", "scale": {"domain": [0, 0.045], "nice": false}, "axis": {"values": [0, 0.005, 0.01, 0.015, 0.02, 0.025, 0.03, 0.035, 0.04, 0.045], "format": ".3f", "title": null}}}},
          {"data": {"values": []}, "mark": "point",
           "encoding": {"x": {"field": "x", "type": "quantitative", "scale": {"domain": [0, 100], "nice": false}, "axis": {"orient": "top", "values": [0, 20, 40, 60, 80, 100], "labels": false, "title": null}},
                        "y": {"field": "d", "type": "quantitative", "scale": {"domain": [0, 0.045], "nice": false}, "axis": {"orient": "right", "values": [0, 0.005, 0.01, 0.015, 0.02, 0.025, 0.03, 0.035, 0.04, 0.045], "labels": false, "title": null}}}}
        ]},
        {"width": 1148, "height": 186, "resolve": {"axis": {"x": "independent", "y": "independent"}}, "layer": [
          {"data": {"name": "w"}, "mark": {"type": "line", "color": "#0000ff", "strokeWidth": 2},
           "encoding": {"x": {"field": "x", "type": "quantitative", "scale": {"domain": [0, 100], "nice": false}, "axis": {"values": [0, 20, 40, 60, 80, 100], "format": "d", "title": null}},
                        "y": {"field": "e", "type": "quantitative", "scale": {"domain": [0, 0.06], "nice": false}, "axis": {"values": [0, 0.01, 0.02, 0.03, 0.04, 0.05, 0.06], "format": ".2f", "title": null}}}},
          {"data": {"values": []}, "mark": "point",
           "encoding": {"x": {"field": "x", "type": "quantitative", "scale": {"domain": [0, 100], "nice": false}, "axis": {"orient": "top", "values": [0, 20, 40, 60, 80, 100], "labels": false, "title": null}},
                        "y": {"field": "e", "type": "quantitative", "scale": {"domain": [0, 0.06], "nice": false}, "axis": {"orient": "right", "values": [0, 0.01, 0.02, 0.03, 0.04, 0.05, 0.06], "labels": false, "title": null}}}}
        ]},
        {"width": 1148, "height": 186, "resolve": {"axis": {"x": "independent", "y": "independent"}},
         "title": {"text": "Bases wₖ using PLCA with k = 6. Amplitudes across 95 frequency bins.", "orient": "bottom", "anchor": "start", "frame": "group", "dx": -46, "offset": 69, "baseline": "top", "font": "Lato, DejaVu Sans", "fontSize": 38.5, "fontWeight": "normal", "color": "black"},
         "layer": [
          {"data": {"name": "w"}, "mark": {"type": "line", "color": "#0000ff", "strokeWidth": 2},
           "encoding": {"x": {"field": "x", "type": "quantitative", "scale": {"domain": [0, 100], "nice": false}, "axis": {"values": [0, 20, 40, 60, 80, 100], "format": "d", "title": null}},
                        "y": {"field": "f", "type": "quantitative", "scale": {"domain": [0, 0.05], "nice": false}, "axis": {"values": [0, 0.01, 0.02, 0.03, 0.04, 0.05], "format": ".2f", "title": null}}}},
          {"data": {"values": []}, "mark": "point",
           "encoding": {"x": {"field": "x", "type": "quantitative", "scale": {"domain": [0, 100], "nice": false}, "axis": {"orient": "top", "values": [0, 20, 40, 60, 80, 100], "labels": false, "title": null}},
                        "y": {"field": "f", "type": "quantitative", "scale": {"domain": [0, 0.05], "nice": false}, "axis": {"orient": "right", "values": [0, 0.01, 0.02, 0.03, 0.04, 0.05], "labels": false, "title": null}}}}
        ]}
      ]},
      {"spacing": 31, "bounds": "flush", "vconcat": [
        {"width": 1154, "height": 45, "data": {"values": []}, "mark": "rect", "encoding": {}, "view": {"stroke": null}},
        {"width": 1154, "height": 181, "resolve": {"axis": {"x": "independent", "y": "independent"}}, "layer": [
          {"data": {"name": "h"}, "mark": {"type": "line", "color": "#008000", "strokeWidth": 1.4},
           "encoding": {"x": {"field": "t", "type": "quantitative", "scale": {"domain": [0, 3000], "nice": false}, "axis": {"values": [0, 500, 1000, 1500, 2000, 2500, 3000], "format": "d", "title": null}},
                        "y": {"field": "a", "type": "quantitative", "scale": {"domain": [0, 0.0025], "nice": false}, "axis": {"values": [0, 0.0005, 0.001, 0.0015, 0.002, 0.0025], "format": ".4f", "title": null}}}},
          {"data": {"values": []}, "mark": "point",
           "encoding": {"x": {"field": "t", "type": "quantitative", "scale": {"domain": [0, 3000], "nice": false}, "axis": {"orient": "top", "values": [0, 500, 1000, 1500, 2000, 2500, 3000], "labels": false, "title": null}},
                        "y": {"field": "a", "type": "quantitative", "scale": {"domain": [0, 0.0025], "nice": false}, "axis": {"orient": "right", "values": [0, 0.0005, 0.001, 0.0015, 0.002, 0.0025], "labels": false, "title": null}}}}
        ]},
        {"width": 1154, "height": 181, "resolve": {"axis": {"x": "independent", "y": "independent"}}, "layer": [
          {"data": {"name": "h"}, "mark": {"type": "line", "color": "#0000ff", "strokeWidth": 1.4},
           "encoding": {"x": {"field": "t", "type": "quantitative", "scale": {"domain": [0, 3000], "nice": false}, "axis": {"values": [0, 500, 1000, 1500, 2000, 2500, 3000], "format": "d", "title": null}},
                        "y": {"field": "b", "type": "quantitative", "scale": {"domain": [0, 0.004], "nice": false}, "axis": {"values": [0, 0.0005, 0.001, 0.0015, 0.002, 0.0025, 0.003, 0.0035, 0.004], "format": ".4f", "title": null}}}},
          {"data": {"values": []}, "mark": "point",
           "encoding": {"x": {"field": "t", "type": "quantitative", "scale": {"domain": [0, 3000], "nice": false}, "axis": {"orient": "top", "values": [0, 500, 1000, 1500, 2000, 2500, 3000], "labels": false, "title": null}},
                        "y": {"field": "b", "type": "quantitative", "scale": {"domain": [0, 0.004], "nice": false}, "axis": {"orient": "right", "values": [0, 0.0005, 0.001, 0.0015, 0.002, 0.0025, 0.003, 0.0035, 0.004], "labels": false, "title": null}}}}
        ]},
        {"width": 1154, "height": 181, "resolve": {"axis": {"x": "independent", "y": "independent"}}, "layer": [
          {"data": {"name": "h"}, "mark": {"type": "line", "color": "#0000ff", "strokeWidth": 1.4},
           "encoding": {"x": {"field": "t", "type": "quantitative", "scale": {"domain": [0, 3000], "nice": false}, "axis": {"values": [0, 500, 1000, 1500, 2000, 2500, 3000], "format": "d", "title": null}},
                        "y": {"field": "c", "type": "quantitative", "scale": {"domain": [0, 0.003], "nice": false}, "axis": {"values": [0, 0.0005, 0.001, 0.0015, 0.002, 0.0025, 0.003], "format": ".4f", "title": "Weighting", "titlePadding": 8}}}},
          {"data": {"values": []}, "mark": "point",
           "encoding": {"x": {"field": "t", "type": "quantitative", "scale": {"domain": [0, 3000], "nice": false}, "axis": {"orient": "top", "values": [0, 500, 1000, 1500, 2000, 2500, 3000], "labels": false, "title": null}},
                        "y": {"field": "c", "type": "quantitative", "scale": {"domain": [0, 0.003], "nice": false}, "axis": {"orient": "right", "values": [0, 0.0005, 0.001, 0.0015, 0.002, 0.0025, 0.003], "labels": false, "title": null}}}}
        ]},
        {"width": 1154, "height": 181, "resolve": {"axis": {"x": "independent", "y": "independent"}}, "layer": [
          {"data": {"name": "h"}, "mark": {"type": "line", "color": "#0000ff", "strokeWidth": 1.4},
           "encoding": {"x": {"field": "t", "type": "quantitative", "scale": {"domain": [0, 3000], "nice": false}, "axis": {"values": [0, 500, 1000, 1500, 2000, 2500, 3000], "format": "d", "title": null}},
                        "y": {"field": "d", "type": "quantitative", "scale": {"domain": [0, 0.002], "nice": false}, "axis": {"values": [0, 0.0005, 0.001, 0.0015, 0.002], "format": ".4f", "title": null}}}},
          {"data": {"values": []}, "mark": "point",
           "encoding": {"x": {"field": "t", "type": "quantitative", "scale": {"domain": [0, 3000], "nice": false}, "axis": {"orient": "top", "values": [0, 500, 1000, 1500, 2000, 2500, 3000], "labels": false, "title": null}},
                        "y": {"field": "d", "type": "quantitative", "scale": {"domain": [0, 0.002], "nice": false}, "axis": {"orient": "right", "values": [0, 0.0005, 0.001, 0.0015, 0.002], "labels": false, "title": null}}}}
        ]},
        {"width": 1154, "height": 181, "resolve": {"axis": {"x": "independent", "y": "independent"}}, "layer": [
          {"data": {"name": "h"}, "mark": {"type": "line", "color": "#0000ff", "strokeWidth": 1.4},
           "encoding": {"x": {"field": "t", "type": "quantitative", "scale": {"domain": [0, 3000], "nice": false}, "axis": {"values": [0, 500, 1000, 1500, 2000, 2500, 3000], "format": "d", "title": null}},
                        "y": {"field": "e", "type": "quantitative", "scale": {"domain": [0, 0.0018], "nice": false}, "axis": {"values": [0, 0.0002, 0.0004, 0.0006, 0.0008, 0.001, 0.0012, 0.0014, 0.0016, 0.0018], "format": ".4f", "title": null}}}},
          {"data": {"values": []}, "mark": "point",
           "encoding": {"x": {"field": "t", "type": "quantitative", "scale": {"domain": [0, 3000], "nice": false}, "axis": {"orient": "top", "values": [0, 500, 1000, 1500, 2000, 2500, 3000], "labels": false, "title": null}},
                        "y": {"field": "e", "type": "quantitative", "scale": {"domain": [0, 0.0018], "nice": false}, "axis": {"orient": "right", "values": [0, 0.0002, 0.0004, 0.0006, 0.0008, 0.001, 0.0012, 0.0014, 0.0016, 0.0018], "labels": false, "title": null}}}}
        ]},
        {"width": 1154, "height": 181, "resolve": {"axis": {"x": "independent", "y": "independent"}},
         "title": {"text": "hₖ using PLCA with k = 6.", "orient": "bottom", "anchor": "start", "frame": "group", "dx": 305, "offset": 74, "baseline": "top", "font": "Lato, DejaVu Sans", "fontSize": 38.5, "fontWeight": "normal", "color": "black"},
         "layer": [
          {"data": {"name": "h"}, "mark": {"type": "line", "color": "#0000ff", "strokeWidth": 1.4},
           "encoding": {"x": {"field": "t", "type": "quantitative", "scale": {"domain": [0, 3000], "nice": false}, "axis": {"values": [0, 500, 1000, 1500, 2000, 2500, 3000], "format": "d", "title": "Time", "titlePadding": 2}},
                        "y": {"field": "f", "type": "quantitative", "scale": {"domain": [0, 0.0012], "nice": false}, "axis": {"values": [0, 0.0002, 0.0004, 0.0006, 0.0008, 0.001, 0.0012], "format": ".4f", "title": null}}}},
          {"data": {"values": []}, "mark": "point",
           "encoding": {"x": {"field": "t", "type": "quantitative", "scale": {"domain": [0, 3000], "nice": false}, "axis": {"orient": "top", "values": [0, 500, 1000, 1500, 2000, 2500, 3000], "labels": false, "title": null}},
                        "y": {"field": "f", "type": "quantitative", "scale": {"domain": [0, 0.0012], "nice": false}, "axis": {"orient": "right", "values": [0, 0.0002, 0.0004, 0.0006, 0.0008, 0.001, 0.0012], "labels": false, "title": null}}}}
        ]}
      ]}
    ]}
  ]}
]
}
